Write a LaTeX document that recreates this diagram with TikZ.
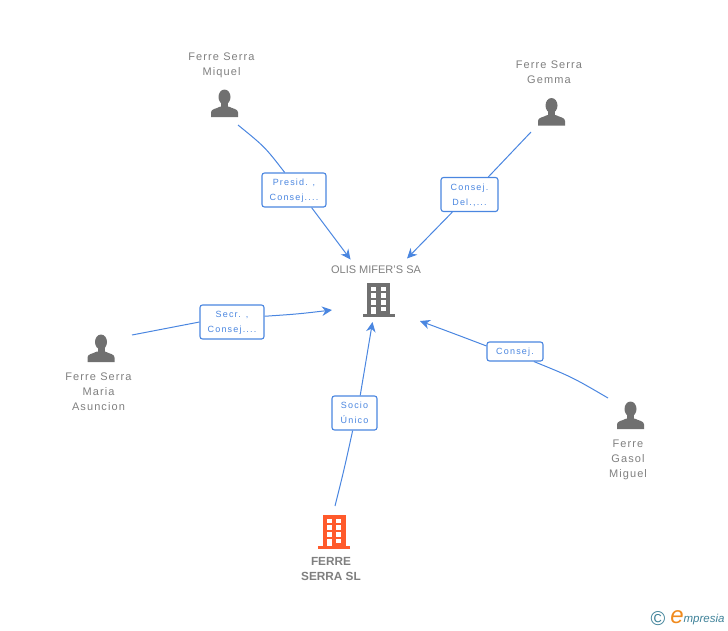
\documentclass[tikz,border=0pt]{standalone}
\usepackage{fontspec}
\usepackage{xcolor}
\setmainfont{Liberation Sans}
\newfontfamily\wide[LetterSpace=10]{Liberation Sans}
\newfontfamily\widesmall[LetterSpace=13]{Liberation Sans}
\usetikzlibrary{arrows.meta,backgrounds}
\definecolor{linkblue}{HTML}{4A86E0}
\definecolor{labelgrey}{HTML}{7F7F7F}
\definecolor{icongrey}{HTML}{707070}
\definecolor{towerred}{HTML}{FF5A2B}
\definecolor{logoteal}{HTML}{3F8299}
\definecolor{logoorange}{HTML}{F08A1D}

\begin{document}
\begin{tikzpicture}[
    x=1pt, y=-1pt,
    badge/.style={draw=linkblue, fill=white, rounded corners=2.5pt, line width=1.1pt, inner sep=0pt, text=linkblue, text depth=-2pt, font=\fontsize{9}{15}\selectfont\widesmall, align=center},
    holder/.style={text=labelgrey, font=\fontsize{11}{15}\selectfont\wide, align=center, inner sep=0pt},
    wire/.style={linkblue, line width=1pt},
    arrowwire/.style={wire, -{Stealth[length=10pt,width=9.5pt]}},
    person/.pic={
        \fill[icongrey] (0,-6.5) ellipse (6 and 7.5);
        \fill[icongrey] (-3.5,-2) rectangle (3.5,4);
        \fill[icongrey] (-13.5,13.5) -- (-13.5,9) .. controls (-13.5,5.5) and (-9,5.5) .. (-4,3) -- (4,3) .. controls (9,5.5) and (13.5,5.5) .. (13.5,9) -- (13.5,13.5) -- cycle;
    },
    tower/.pic={
        \fill[pic actions] (-11.5,-16) rectangle (11.5,15.5);
        \fill[pic actions] (-16,15) rectangle (16,18);
        \foreach \row in {-12.3,-6,1} {
            \fill[white] (-7.5,\row) rectangle (-2.5,\row+4.7);
        }
        \foreach \row in {-12.3,-6,1,7.7} {
            \fill[white] (2.2,\row) rectangle (7.2,\row+4.7);
        }
        \fill[white] (-7.5,7.7) rectangle (-2.5,15);
    }
]
    \path[use as bounding box] (0,0) rectangle (728,630);

    % icons
    \pic at (224.5,103.5) {person};
    \pic at (551.5,112) {person};
    \pic at (101,348.5) {person};
    \pic at (630.5,415.5) {person};
    \pic[fill=icongrey] at (378.5,299) {tower};
    \pic[fill=towerred] at (334,531) {tower};

    % names
    \node[holder] (miquel) at (221.5,65) {Ferre Serra\\Miquel};
    \node[holder] (gemma) at (549,72.5) {Ferre Serra\\Gemma};
    \node[holder] (maria) at (98.5,391.5) {Ferre Serra\\Maria\\Asuncion};
    \node[holder] (miguel) at (628,460) {Ferre\\Gasol\\Miguel};
    \node[text=labelgrey, font=\fontsize{11}{15}\selectfont, inner sep=0pt] (olis) at (376,270) {OLIS MIFER'S SA};
    \node[text=labelgrey, font=\fontsize{11.8}{15}\selectfont\bfseries, align=center, inner sep=0pt] (ferre) at (331,569) {FERRE\\SERRA SL};

    % badges
    \node[badge, minimum width=64pt, minimum height=34pt] (presid) at (294,190) {Presid. ,\\Consej....};
    \node[badge, minimum width=57pt, minimum height=34pt] (delegado) at (469.5,194.5) {Consej.\\Del.,...};
    \node[badge, minimum width=64pt, minimum height=34pt] (secr) at (232,322) {Secr. ,\\Consej....};
    \node[badge, minimum width=56pt, minimum height=19pt] (consej) at (515,351.5) {Consej.};
    \node[badge, minimum width=45pt, minimum height=34pt] (socio) at (354.5,413) {Socio\\Único};

    % free ends
    \coordinate (miquelout) at (238,125);
    \coordinate (gemmaout) at (531,132);
    \coordinate (mariaout) at (132,335);
    \coordinate (miguelout) at (608,398);
    \coordinate (ferreout) at (335,506);
    \coordinate (inmiquel) at (350.5,259.5);
    \coordinate (ingemma) at (407,258.5);
    \coordinate (inmaria) at (332,310);
    \coordinate (inmiguel) at (420,321);
    \coordinate (inferre) at (372.5,322);

    \begin{scope}[on background layer]
        \draw[wire] (miquelout) .. controls (265,147) .. (presid.118);
        \draw[arrowwire] (presid.-45) -- (inmiquel);
        \draw[wire] (gemmaout) -- (delegado.43);
        \draw[arrowwire] (delegado) -- (ingemma);
        \draw[wire] (mariaout) .. controls (165,328) .. (secr.west);
        \draw[arrowwire] (secr.10) .. controls (298,314) .. (inmaria);
        \draw[wire] (miguelout) .. controls (572,377) .. (consej.-28);
        \draw[arrowwire] (consej.169) .. controls (455,334) .. (inmiguel);
        \draw[wire] (ferreout) .. controls (344,470) .. (socio.-96);
        \draw[arrowwire] (socio.72) -- (inferre);
    \end{scope}

    % logo
    \node[text=logoteal, font=\fontsize{20}{20}\selectfont, inner sep=0pt] (copyr) at (658,619) {©};
    \node[text=logoorange, font=\fontsize{24}{24}\selectfont\itshape, inner sep=0pt] (logoe) at (677,617) {e};
    \node[text=logoteal, font=\fontsize{11.5}{12}\selectfont\itshape, inner sep=0pt] (logoname) at (704,620) {mpresia};
\end{tikzpicture}
\end{document}
